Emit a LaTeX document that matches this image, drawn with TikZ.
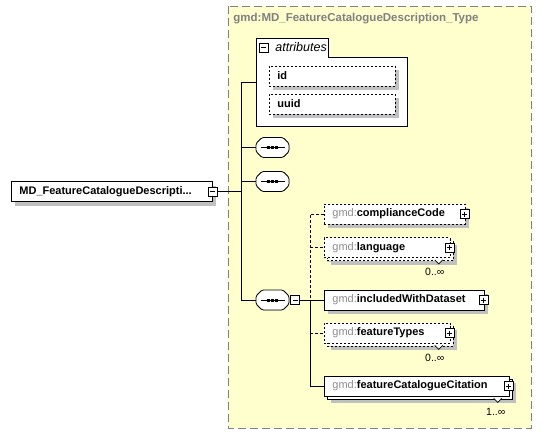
\documentclass[tikz,border=0pt]{standalone}
\usepackage{fontspec}
\setmainfont{Liberation Sans}
\usetikzlibrary{shadows,calc}
\definecolor{typefill}{RGB}{255,255,206}
\definecolor{typeline}{RGB}{128,128,128}
\definecolor{prefixgray}{RGB}{140,140,140}
\definecolor{shade}{RGB}{192,192,192}
\newcommand{\gmd}[1]{{\mdseries\color{prefixgray}gmd:}#1}
\newcommand{\octpath}[1]{($(#1.center)+(-16.5,-4)$) -- ($(#1.center)+(-10.5,-10)$) -- ($(#1.center)+(10.5,-10)$)
  -- ($(#1.center)+(16.5,-4)$) -- ($(#1.center)+(16.5,4)$) -- ($(#1.center)+(10.5,10)$)
  -- ($(#1.center)+(-10.5,10)$) -- ($(#1.center)+(-16.5,4)$) -- cycle}
\tikzset{
  elem/.style={draw, fill=white, anchor=west, minimum height=20pt,
    inner xsep=8pt, inner ysep=0pt, text width=#1, align=left,
    font=\fontsize{11}{13}\selectfont\bfseries,
    drop shadow={shadow xshift=4pt, shadow yshift=-4pt, fill=shade, opacity=1}},
  optional/.style={dash pattern=on 2pt off 2pt},
  stacked/.style={drop shadow={shadow xshift=7pt, shadow yshift=-7pt, fill=shade, opacity=1},
    copy shadow={shadow xshift=3pt, shadow yshift=-3pt}},
  seqbox/.style={minimum width=33pt, minimum height=20pt, inner sep=0pt},
  plusbox/.style={draw, fill=white, solid, minimum size=9pt, inner sep=0pt,
    path picture={\draw[solid, line width=0.8pt]
      ([xshift=2pt]path picture bounding box.west) -- ([xshift=-2pt]path picture bounding box.east)
      ([yshift=-2pt]path picture bounding box.north) -- ([yshift=2pt]path picture bounding box.south);}},
  minusbox/.style={draw, fill=white, solid, minimum size=9pt, inner sep=0pt,
    path picture={\draw[solid, line width=0.8pt]
      ([xshift=2pt]path picture bounding box.west) -- ([xshift=-2pt]path picture bounding box.east);}},
  mult/.style={font=\fontsize{10.5}{12}\selectfont, inner sep=0pt},
  optline/.style={dash pattern=on 3pt off 2pt},
  notch/.style={fill=white, solid, line width=0.7pt},
}
\begin{document}
\begin{tikzpicture}[x=1pt, y=-1pt, line width=0.8pt]
  \useasboundingbox (0,0) rectangle (541,434);

  % complex type
  \draw[fill=typefill, draw=typeline, line width=1pt, dash pattern=on 8pt off 4pt] (228,6) rectangle (531,428);
  \node[anchor=west, inner sep=0pt, text=typeline, font=\fontsize{11.5}{13}\selectfont\bfseries] (typename) at (233,19)
    {gmd:MD\_FeatureCatalogueDescription\_Type};

  % attributes
  \draw[fill=white] (256,38) -- (328,38) -- (328,57) -- (407,57) -- (407,126) -- (256,126) -- cycle;
  \coordinate (attrs) at (256,82);
  \node[minusbox] (attrpm) at (263.5,47.5) {};
  \node[anchor=west, inner sep=0pt, font=\fontsize{12.5}{14}\selectfont\itshape] (attrlabel) at (275,47) {attributes};
  \node[elem=110pt, optional] (id) at (269,76) {id};
  \node[elem=110pt, optional] (uuid) at (269,104) {uuid};

  % element and compositors
  \node[elem=185pt] (mainel) at (11,191.5) {MD\_FeatureCatalogueDescripti...};
  \node[minusbox] (mainpm) at (mainel.east) {};
  \node[seqbox] (seq1) at (272.5,147.5) {};
  \node[seqbox] (seq2) at (272.5,181.5) {};
  \node[seqbox] (seq3) at (272.5,300) {};
  \foreach \s in {seq1,seq2,seq3} {
    \fill[shade, shift={(4,4)}, rounded corners=1.5pt] \octpath{\s};
    \draw[fill=white, rounded corners=1.5pt] \octpath{\s};
    \draw ($(\s.center)+(-12,0)$) -- ($(\s.center)+(12,0)$);
    \foreach \dx in {-4,0,4}
      \fill ($(\s.center)+(\dx,0)$) ++(-1.5,-1.5) rectangle ++(3,3);
  }
  \node[minusbox, anchor=west] (seq3pm) at ([xshift=1pt]seq3.east) {};

  % child elements
  \node[elem=125pt, optional] (comp) at (324,214) {\gmd{complianceCode}};
  \node[elem=110pt, optional, stacked] (lang) at (324,247.5) {\gmd{language}};
  \node[elem=144pt] (incl) at (324,300) {\gmd{includedWithDataset}};
  \node[elem=110pt, optional, stacked] (ftypes) at (324,333) {\gmd{featureTypes}};
  \node[elem=169pt, stacked] (cit) at (324,386) {\gmd{featureCatalogueCitation}};
  \foreach \e in {comp,lang,incl,ftypes,cit}
    \node[plusbox] (\e pm) at ([xshift=-1pt]\e.east) {};
  \foreach \e in {lang,ftypes,cit}
    \draw[notch] ($(\e.south east)+(-16,2)$) -- ++(4,4) -- ++(4,-4);

  % multiplicities
  \node[mult] (langmult) at ($(lang.south east)+(-16,14)$) {0..∞};
  \node[mult] (ftypesmult) at ($(ftypes.south east)+(-16,14)$) {0..∞};
  \node[mult] (citmult) at ($(cit.south east)+(-14,15)$) {1..∞};

  % connectors
  \coordinate (spine) at (241,0);
  \coordinate (branch) at (310,0);
  \draw (mainpm.east) -- (mainpm.east -| spine);
  \draw (attrs) -| (seq3.west -| spine) -- (seq3.west);
  \draw (seq1.west -| spine) -- (seq1.west);
  \draw (seq2.west -| spine) -- (seq2.west);
  \draw (seq3pm.east) -- (incl.west);
  \draw[optline] (comp.west) -| (seq3pm.east -| branch);
  \draw[optline] (lang.west -| branch) -- (lang.west);
  \draw (seq3pm.east -| branch) |- (cit.west);
  \draw[optline] (ftypes.west -| branch) -- (ftypes.west);
\end{tikzpicture}
\end{document}
